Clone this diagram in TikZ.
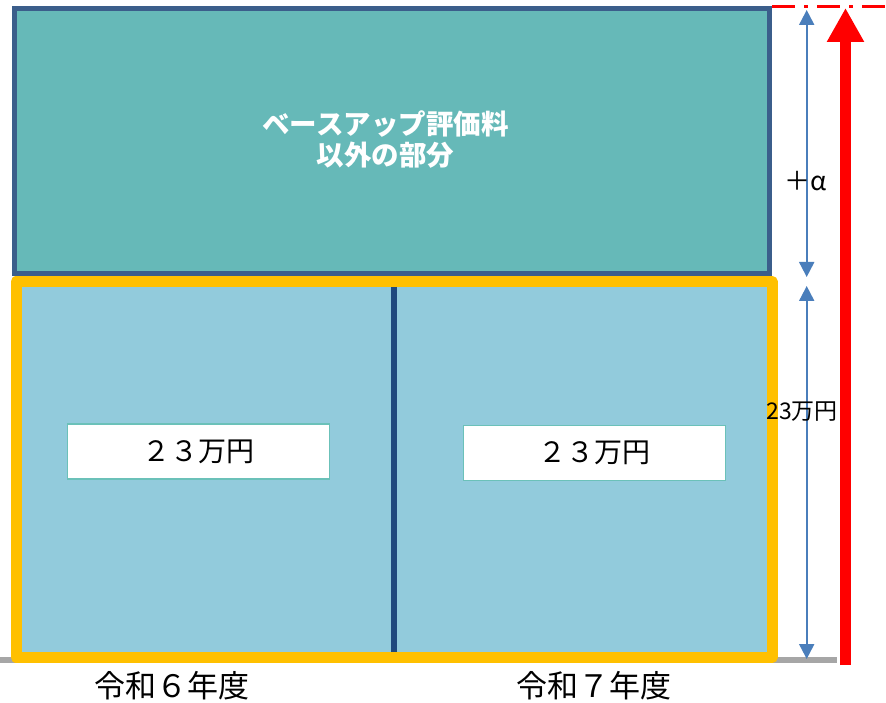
\documentclass[tikz,border=0pt]{standalone}
\usepackage{fontspec}
\setmainfont{Noto Sans CJK JP}
\usetikzlibrary{arrows.meta}
\definecolor{tealfill}{HTML}{66B9B8}
\definecolor{tealborder}{HTML}{3B5E8B}
\definecolor{lightblue}{HTML}{92CBDC}
\definecolor{gold}{HTML}{FFC000}
\definecolor{divider}{HTML}{1F497D}
\definecolor{dimblue}{HTML}{4A7EBB}
\definecolor{basegray}{HTML}{A6A6A6}
\definecolor{boxedge}{HTML}{6BC1B9}
\begin{document}
\begin{tikzpicture}[x=1pt,y=-1pt,
  upperbox/.style={draw=tealborder,fill=tealfill,line width=5pt,minimum width=754.5pt,minimum height=265pt,inner sep=0pt},
  lowerbox/.style={draw=gold,fill=lightblue,line width=11pt,line join=round,minimum width=756pt,minimum height=376pt,inner sep=0pt},
  valbox/.style={draw=boxedge,fill=white,line width=1.5pt,minimum width=262pt,minimum height=55pt,inner sep=0pt,font=\fontsize{28}{30}\selectfont},
  yearlabel/.style={inner sep=0pt,font=\fontsize{31}{34}\selectfont},
  dimarrow/.style={draw=dimblue,line width=2pt,{Triangle[length=15pt,width=15pt]}-{Triangle[length=15pt,width=15pt]}},
  dimlabel/.style={inner sep=0pt}
]
\useasboundingbox (0,0) rectangle (886,703);
% baseline
\coordinate (gl) at (0,659.7);
\coordinate (gr) at (837,659.7);
\draw[basegray,line width=6pt] (gl) -- (gr);
% boxes
\node[lowerbox] (lower) at (394,469.5) {};
\node[upperbox] (upper) at (391.75,141) {};
\coordinate (dtop) at (394,287);
\coordinate (dbot) at (394,652);
\draw[divider,line width=5.5pt] (dtop) -- (dbot);
% title
\node[inner sep=0pt,text=white,align=center,font=\bfseries\fontsize{27.5}{31}\selectfont] (title) at (385.5,140) {ベースアップ評価料\\以外の部分};
% value boxes
\node[valbox] (v6) at (198.7,451.5) {２３万円};
\node[valbox] (v7) at (594.5,453) {２３万円};
% year labels
\node[yearlabel] (y6) at (171.5,686) {令和６年度};
\node[yearlabel] (y7) at (594,686) {令和７年度};
% red dashed line
\coordinate (rl) at (772,6.7);
\coordinate (rr) at (886,6.7);
\draw[red,line width=3pt,dash pattern=on 23pt off 9pt on 4pt off 9pt] (rl) -- (rr);
% red arrow
\coordinate (rb) at (845.5,665);
\coordinate (rt) at (845.5,8);
\draw[red,line width=11pt,-{Triangle[length=34pt,width=35pt]}] (rb) -- (rt);
% dimension arrows
\coordinate (ua) at (806.7,10);
\coordinate (ub) at (806.7,277);
\coordinate (la) at (806.7,286);
\coordinate (lb) at (806.7,659);
\draw[dimarrow] (ua) -- (ub);
\draw[dimarrow] (la) -- (lb);
\node[dimlabel,font=\fontsize{26}{30}\selectfont] (alpha) at (806,181) {＋α};
\node[dimlabel,font=\fontsize{23}{26}\selectfont] (v23) at (802,412) {23万円};
\end{tikzpicture}
\end{document}
